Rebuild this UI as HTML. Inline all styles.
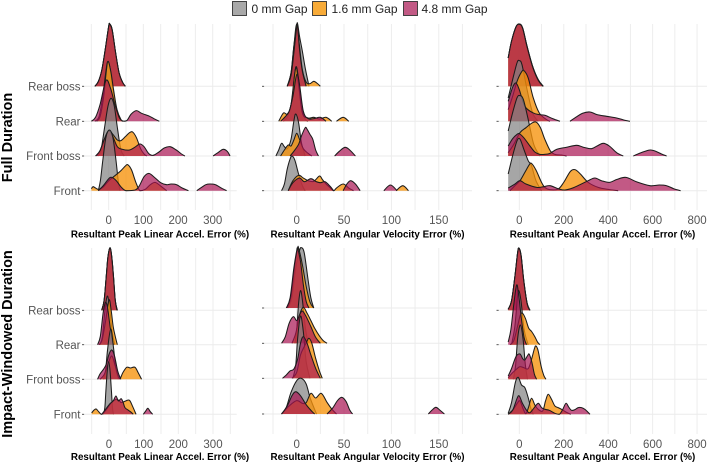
<!DOCTYPE html>
<html>
<head>
<meta charset="utf-8">
<title>Ridgeline chart of resultant peak errors</title>
<style>
html,body{margin:0;padding:0;background:#fff;}
body{width:708px;height:464px;overflow:hidden;font-family:"Liberation Sans",sans-serif;}
svg{display:block;filter:blur(0.35px);}
text{font-family:"Liberation Sans",sans-serif;}
</style>
</head>
<body>
<svg id="chart" width="708" height="464" viewBox="0 0 708 464" xmlns="http://www.w3.org/2000/svg">
  <g>
    <rect x="232.5" y="1.5" width="14" height="14" fill="#a9a9a9" stroke="#333" stroke-width="0.9"/>
    <text x="251.5" y="12.8" font-size="12" fill="#222">0 mm Gap</text>
    <rect x="312.5" y="1.5" width="14" height="14" fill="#f8ab38" stroke="#333" stroke-width="0.9"/>
    <text x="331.5" y="12.8" font-size="12" fill="#222">1.6 mm Gap</text>
    <rect x="403.5" y="1.5" width="14" height="14" fill="#c25a85" stroke="#333" stroke-width="0.9"/>
    <text x="421.5" y="12.8" font-size="12" fill="#222">4.8 mm Gap</text>
  </g>
  <text transform="translate(12,137.5) rotate(-90)" text-anchor="middle" font-size="14.5" font-weight="bold" fill="#000">Full Duration</text>
  <text transform="translate(12,344) rotate(-90)" text-anchor="middle" font-size="14.5" font-weight="bold" fill="#000">Impact-Windowed Duration</text>
</svg>
<script>
// Categories and labels
const categories = ['Rear boss', 'Rear', 'Front boss', 'Front'];
const gapLabels = ['0 mm Gap', '1.6 mm Gap', '4.8 mm Gap'];
const linearTicks = [0, 100, 200, 300];
const velocityTicks = [0, 50, 100, 150];
const angularTicks = [0, 200, 400, 600, 800];
const linearTitle = 'Resultant Peak Linear Accel. Error (%)';
const velocityTitle = 'Resultant Peak Angular Velocity Error (%)';
const angularTitle = 'Resultant Peak Angular Accel. Error (%)';

// Density curves: [error %, density] per panel / row / gap
// Full duration, linear acceleration
const fullLinRearBoss0 = [[-40,0],[-30,14],[-20,48],[-10,110],[0,180],[3,187],[10,170],[20,100],[30,40],[40,12],[48,0]];
const fullLinRearBoss1 = [[-40,0],[-30,14],[-20,48],[-10,110],[0,180],[3,187],[10,170],[20,100],[30,40],[40,12],[48,0]];
const fullLinRearBoss2 = [[-40,0],[-30,14],[-20,48],[-10,110],[0,180],[3,186],[10,168],[20,100],[30,40],[40,12],[48,0]];
const fullLinRear0 = [[-40,0],[-28,14],[-18,70],[-8,150],[-3,179],[3,165],[12,100],[22,40],[32,8],[40,0]];
const fullLinRear1 = [[-35,0],[-25,14],[-15,70],[-7,150],[-2,179],[6,150],[14,95],[24,35],[36,4],[42,0]];
const fullLinRear2 = [[-50,0],[-38,12],[-25,50],[-8,122],[5,100],[18,50],[30,12],[40,1],[52,2],[65,22],[80,32],[95,24],[118,15],[132,7],[146,0]];
const fullLinFrontBoss0 = [[-30,0],[-22,18],[-12,85],[-2,150],[7,173],[16,150],[25,85],[35,20],[45,0]];
const fullLinFrontBoss1 = [[-35,0],[-25,16],[-12,52],[0,76],[12,65],[25,48],[35,46],[48,58],[60,70],[69,72],[80,55],[92,22],[102,6],[110,0]];
const fullLinFrontBoss2 = [[-38,0],[-25,16],[-12,52],[0,76],[12,58],[25,28],[40,20],[60,18],[75,26],[90,36],[102,28],[115,8],[128,2],[145,12],[160,24],[177,28],[195,18],[210,6],[220,0],[301,0],[315,10],[330,20],[342,14],[350,0]];
const fullLinFront0 = [[-30,0],[-24,30],[-17,91],[-8,160],[2,182],[12,160],[21,91],[28,25],[33,0]];
const fullLinFront1 = [[-50,6],[-45,12],[-38,8],[-28,4],[-15,12],[0,30],[18,45],[35,60],[48,74],[55,78],[66,62],[78,26],[90,0],[105,4],[120,18],[134,25],[150,14],[167,0]];
const fullLinFront2 = [[-30,0],[-15,16],[0,36],[9,40],[22,30],[35,12],[50,0],[76,2],[88,14],[102,42],[116,52],[132,40],[150,24],[167,18],[180,20],[196,18],[212,8],[230,0],[254,0],[268,10],[280,18],[292,20],[308,18],[325,8],[340,0]];
// Full duration, angular velocity
const fullVelRearBoss0 = [[-10,0],[-6,40],[-3,120],[0,182],[1,187],[3,150],[6,105],[9,55],[13,0]];
const fullVelRearBoss1 = [[-10,0],[-6,40],[-3,120],[0,187],[3,120],[6,50],[10,12],[14,8],[18,15],[22,8],[25,0]];
const fullVelRearBoss2 = [[-10,0],[-6,32],[-3,100],[0,178],[1,180],[3,110],[6,45],[10,0]];
const fullVelRear0 = [[-14,0],[-9,18],[-5,65],[-1,162],[2,125],[5,45],[9,6],[12,0]];
const fullVelRear1 = [[-19,0],[-14,25],[-10,22],[-6,50],[-1,160],[2,110],[6,25],[12,10],[18,12],[24,7],[31,12],[37,0],[42,0],[49,12],[55,0]];
const fullVelRear2 = [[-17,0],[-12,14],[-8,30],[-4,75],[0,140],[3,110],[7,30],[12,8],[18,8],[25,12],[31,0]];
const fullVelFrontBoss0 = [[-22,0],[-19,18],[-16,38],[-13,28],[-10,22],[-6,50],[-3,105],[-1,126],[2,100],[5,40],[9,0]];
const fullVelFrontBoss1 = [[-17,0],[-13,18],[-9,33],[-6,30],[-3,48],[0,68],[3,50],[7,22],[12,8],[16,0]];
const fullVelFrontBoss2 = [[-7,0],[-3,14],[2,35],[5,60],[9,85],[11,80],[14,65],[17,50],[20,18],[23,0],[40,0],[45,14],[51,26],[56,18],[62,0]];
const fullVelFront0 = [[-16,0],[-13,20],[-10,65],[-7,95],[-5,104],[-2,92],[2,50],[6,15],[9,0]];
const fullVelFront1 = [[-9,0],[-4,30],[2,46],[7,38],[12,30],[18,28],[24,44],[27,34],[31,20],[35,10],[39,0],[42,8],[49,20],[55,8],[60,0],[92,0],[105,0],[112,15],[118,0]];
const fullVelFront2 = [[-9,0],[-4,24],[3,38],[8,27],[15,36],[20,28],[25,24],[30,27],[35,14],[39,0],[49,0],[53,20],[57,30],[62,20],[67,0],[92,0],[99,17],[106,0]];
// Full duration, angular acceleration
const fullAccRearBoss0 = [[-50,85],[-35,135],[-15,178],[0,187],[15,175],[35,120],[60,60],[85,20],[108,0]];
const fullAccRearBoss1 = [[-50,85],[-35,135],[-15,178],[0,187],[15,175],[35,120],[60,60],[85,20],[108,0]];
const fullAccRearBoss2 = [[-50,85],[-35,135],[-15,178],[0,186],[15,174],[35,118],[60,58],[85,18],[106,0]];
const fullAccRear0 = [[-50,70],[-30,125],[-10,176],[0,182],[12,170],[35,95],[60,25],[85,0]];
const fullAccRear1 = [[-50,35],[-30,75],[-10,120],[10,148],[21,152],[40,130],[63,70],[90,25],[123,5],[138,0]];
const fullAccRear2 = [[-50,60],[-30,102],[-15,115],[0,95],[25,45],[63,25],[90,20],[115,18],[150,8],[183,0],[228,0],[250,10],[285,24],[318,28],[350,20],[393,15],[438,10],[470,4],[498,0]];
const fullAccFrontBoss0 = [[-50,75],[-30,130],[-10,175],[3,181],[18,170],[40,110],[65,35],[93,0]];
const fullAccFrontBoss1 = [[-50,10],[-25,35],[3,70],[30,85],[55,98],[75,102],[95,85],[115,50],[140,15],[160,5],[190,3],[213,0]];
const fullAccFrontBoss2 = [[-50,30],[-30,52],[-10,65],[0,67],[20,55],[48,30],[70,12],[93,5],[115,5],[138,8],[168,20],[210,26],[258,32],[290,26],[325,22],[350,30],[378,38],[405,30],[438,10],[468,0],[513,0],[540,8],[570,15],[591,18],[615,14],[640,6],[663,0]];
const fullAccFront0 = [[-50,50],[-30,105],[-10,150],[3,155],[20,125],[40,90],[55,75],[75,30],[100,0]];
const fullAccFront1 = [[-42,0],[-20,15],[3,30],[25,55],[45,78],[55,82],[75,62],[100,25],[115,10],[138,3],[175,5],[200,25],[230,58],[252,63],[275,50],[310,25],[355,10],[400,4],[445,0]];
const fullAccFront2 = [[-50,8],[-20,20],[3,30],[30,20],[78,10],[110,12],[138,15],[175,6],[205,2],[240,8],[273,18],[310,30],[340,38],[370,30],[405,25],[440,34],[480,40],[530,26],[588,15],[630,17],[663,15],[695,6],[726,0]];
// Impact-windowed, linear acceleration
const impLinRearBoss0 = [[-21,0],[-14,30],[-8,100],[-3,160],[3,188],[8,160],[13,100],[18,30],[24,0]];
const impLinRearBoss1 = [[-21,0],[-14,30],[-8,100],[-3,160],[3,188],[8,160],[13,100],[18,30],[24,0]];
const impLinRearBoss2 = [[-21,0],[-14,30],[-8,100],[-3,160],[3,187],[8,158],[13,98],[18,30],[23,0]];
const impLinRear0 = [[-26,0],[-19,25],[-12,100],[-5,146],[2,110],[9,40],[17,0]];
const impLinRear1 = [[-29,0],[-20,14],[-10,70],[0,134],[6,105],[12,55],[18,25],[24,0]];
const impLinRear2 = [[-33,0],[-25,25],[-17,95],[-10,127],[-4,110],[3,55],[9,15],[13,0]];
const impLinFrontBoss0 = [[-16,0],[-10,25],[-4,90],[5,151],[13,95],[20,30],[27,0]];
const impLinFrontBoss1 = [[-26,0],[-14,14],[-3,45],[8,70],[18,40],[30,2],[40,20],[51,36],[62,34],[75,36],[85,18],[94,0]];
const impLinFrontBoss2 = [[-33,0],[-26,16],[-16,30],[-8,45],[0,75],[8,88],[16,70],[25,25],[34,0]];
const impLinFront0 = [[-16,0],[-12,20],[-9,70],[-5,130],[-1,158],[3,130],[7,70],[10,20],[13,0]];
const impLinFront1 = [[-50,4],[-44,12],[-37,16],[-30,8],[-21,0],[-8,14],[3,30],[12,40],[22,45],[30,40],[36,35],[48,40],[59,42],[68,24],[78,0]];
const impLinFront2 = [[-21,0],[-12,12],[3,32],[12,40],[20,55],[27,40],[35,47],[41,35],[46,20],[56,12],[64,6],[70,0],[99,0],[106,10],[112,18],[119,8],[126,0]];
// Impact-windowed, angular velocity
const impVelRearBoss0 = [[-9,0],[-5,32],[-1,120],[3,172],[5,181],[8,165],[12,85],[15,30],[18,0]];
const impVelRearBoss1 = [[-10,0],[-6,35],[-2,130],[1,178],[2,180],[6,130],[10,65],[14,18],[18,0]];
const impVelRearBoss2 = [[-11,0],[-7,30],[-3,120],[0,172],[1,178],[4,140],[7,70],[10,20],[13,0]];
const impVelRear0 = [[-2,0],[0,40],[2,120],[4,158],[6,130],[9,50],[12,0]];
const impVelRear1 = [[-5,0],[-1,30],[3,85],[7,108],[11,90],[15,68],[19,45],[24,22],[28,8],[32,0]];
const impVelRear2 = [[-16,0],[-12,20],[-8,60],[-3.5,80],[0,68],[3,85],[6,97],[10,80],[15,50],[20,18],[25,0]];
const impVelFrontBoss0 = [[-4,0],[-1,40],[1,120],[4,187],[7,140],[10,50],[14,0]];
const impVelFrontBoss1 = [[-5,0],[0,18],[4,70],[8,95],[11,112],[13,120],[16,105],[20,60],[24,22],[27,0]];
const impVelFrontBoss2 = [[-15,0],[-11,10],[-7,22],[-3,28],[1,58],[4,105],[7,125],[11,105],[15,70],[20,30],[25,0]];
const impVelFront0 = [[-16,0],[-11,20],[-6,65],[0,100],[5,107],[10,90],[14,50],[18,20],[21,0]];
const impVelFront1 = [[-16,0],[-8,24],[0,40],[6,32],[10,34],[15,62],[20,48],[26,62],[32,35],[37,15],[42,0]];
const impVelFront2 = [[-16,0],[-10,24],[-5,55],[-1,67],[4,55],[10,28],[16,8],[19,0],[32,0],[38,18],[43,40],[47.5,50],[52,38],[56,12],[59,0],[139,0],[143,12],[147,20],[151,12],[156,0]];
// Impact-windowed, angular acceleration
const impAccRearBoss0 = [[-50,3],[-35,28],[-20,100],[-8,170],[-2,187],[8,165],[20,90],[35,22],[48,0]];
const impAccRearBoss1 = [[-50,3],[-35,28],[-20,100],[-8,170],[-2,187],[8,165],[20,90],[35,22],[48,0]];
const impAccRearBoss2 = [[-50,3],[-35,28],[-20,100],[-8,170],[-2,186],[8,163],[20,88],[35,20],[47,0]];
const impAccRear0 = [[-35,0],[-20,55],[-8,145],[-2,162],[8,130],[22,45],[40,0]];
const impAccRear1 = [[-42,0],[-25,12],[-8,55],[5,90],[15,94],[28,78],[42,50],[55,40],[70,24],[82,8],[93,0]];
const impAccRear2 = [[-50,8],[-38,45],[-25,120],[-12,179],[-3,150],[10,75],[22,20],[33,0]];
const impAccFrontBoss0 = [[-27,0],[-17,40],[-7,125],[5,163],[17,120],[27,45],[37,0]];
const impAccFrontBoss1 = [[-50,5],[-30,20],[-10,32],[3,38],[20,35],[40,32],[55,60],[68,92],[75,100],[85,85],[98,40],[110,12],[120,0]];
const impAccFrontBoss2 = [[-50,10],[-35,32],[-15,68],[3,76],[15,62],[25,58],[38,72],[45,75],[57,50],[68,15],[78,0]];
const impAccFront0 = [[-50,3],[-35,35],[-18,95],[-5,111],[10,88],[25,80],[40,50],[52,18],[63,0]];
const impAccFront1 = [[-50,0],[-28,14],[-8,34],[3,40],[18,15],[30,2],[42,22],[55,48],[70,28],[85,15],[105,10],[118,40],[130,60],[145,45],[160,25],[175,20],[190,15],[215,5],[232,0]];
const impAccFront2 = [[-50,0],[-30,12],[-10,48],[0,55],[15,32],[35,10],[48,5],[65,18],[85,33],[100,20],[115,15],[135,12],[160,3],[180,0],[195,14],[210,33],[222,22],[235,12],[250,14],[265,20],[280,20],[295,15],[308,7],[318,0]];

const gapFills = ['rgba(132,132,132,0.72)', 'rgba(246,146,10,0.78)', 'rgba(168,19,81,0.7)'];
const SVG_NS = 'http://www.w3.org/2000/svg';
const chart = document.getElementById('chart');

const panels = [
  {key:'full-linear', x0:108.7, k:0.3467, left:85, right:236.7, top:24, bottom:210, base:[86.3,121.3,156,190.7], tickX:82, labels:true,
   major:linearTicks, minorStep:50, gridFrom:-50, gridTo:350, tickY:224, title:linearTitle, titleX:160, titleY:237.5,
   series:[[fullLinRearBoss0,fullLinRearBoss1,fullLinRearBoss2],[fullLinRear0,fullLinRear1,fullLinRear2],[fullLinFrontBoss0,fullLinFrontBoss1,fullLinFrontBoss2],[fullLinFront0,fullLinFront1,fullLinFront2]]},
  {key:'full-velocity', x0:296.7, k:0.947, left:265, right:472, top:24, bottom:210, base:[86.3,121.3,156,190.7], tickX:262, labels:false,
   major:velocityTicks, minorStep:25, gridFrom:-25, gridTo:175, tickY:224, title:velocityTitle, titleX:367.5, titleY:237.5,
   series:[[fullVelRearBoss0,fullVelRearBoss1,fullVelRearBoss2],[fullVelRear0,fullVelRear1,fullVelRear2],[fullVelFrontBoss0,fullVelFrontBoss1,fullVelFrontBoss2],[fullVelFront0,fullVelFront1,fullVelFront2]]},
  {key:'full-angular', x0:519.3, k:0.2222, left:499, right:707, top:24, bottom:210, base:[86.3,121.3,156,190.7], tickX:496.5, labels:false,
   major:angularTicks, minorStep:100, gridFrom:0, gridTo:800, tickY:224, title:angularTitle, titleX:602.5, titleY:237.5,
   series:[[fullAccRearBoss0,fullAccRearBoss1,fullAccRearBoss2],[fullAccRear0,fullAccRear1,fullAccRear2],[fullAccFrontBoss0,fullAccFrontBoss1,fullAccFrontBoss2],[fullAccFront0,fullAccFront1,fullAccFront2]]},
  {key:'impact-linear', x0:109, k:0.3467, left:85, right:236.7, top:248, bottom:434, base:[310.3,344.7,379.3,414.3], tickX:82, labels:true,
   major:linearTicks, minorStep:50, gridFrom:-50, gridTo:350, tickY:448, title:linearTitle, titleX:160, titleY:460,
   series:[[impLinRearBoss0,impLinRearBoss1,impLinRearBoss2],[impLinRear0,impLinRear1,impLinRear2],[impLinFrontBoss0,impLinFrontBoss1,impLinFrontBoss2],[impLinFront0,impLinFront1,impLinFront2]]},
  {key:'impact-velocity', x0:296.7, k:0.947, left:265, right:472, top:248, bottom:434, base:[308,343.3,378.3,414], tickX:262, labels:false,
   major:velocityTicks, minorStep:25, gridFrom:-25, gridTo:175, tickY:448, title:velocityTitle, titleX:367.5, titleY:460,
   series:[[impVelRearBoss0,impVelRearBoss1,impVelRearBoss2],[impVelRear0,impVelRear1,impVelRear2],[impVelFrontBoss0,impVelFrontBoss1,impVelFrontBoss2],[impVelFront0,impVelFront1,impVelFront2]]},
  {key:'impact-angular', x0:519.3, k:0.2222, left:499, right:707, top:248, bottom:434, base:[310.3,344.7,379.3,414.3], tickX:496.5, labels:false,
   major:angularTicks, minorStep:100, gridFrom:0, gridTo:800, tickY:448, title:angularTitle, titleX:602.5, titleY:460,
   series:[[impAccRearBoss0,impAccRearBoss1,impAccRearBoss2],[impAccRear0,impAccRear1,impAccRear2],[impAccFrontBoss0,impAccFrontBoss1,impAccFrontBoss2],[impAccFront0,impAccFront1,impAccFront2]]}
];

function make(tag, attrs, parent) {
  const el = document.createElementNS(SVG_NS, tag);
  for (const k in attrs) el.setAttribute(k, attrs[k]);
  parent.appendChild(el);
  return el;
}
function slug(s) { return s.toLowerCase().replace(/[^a-z0-9]+/g, '-').replace(/-$/, ''); }

// Split density points into drawable runs, leaving out stretches at zero density
function splitRuns(points) {
  const runs = [];
  let cur = [];
  for (let i = 0; i < points.length; i++) {
    cur.push(points[i]);
    if (i < points.length - 1 && points[i][1] === 0 && points[i + 1][1] === 0) {
      if (cur.length > 1) runs.push(cur);
      cur = [];
    }
  }
  if (cur.length > 1) runs.push(cur);
  return runs;
}
function smoothPath(pixels, base) {
  let d = 'M' + pixels[0][0].toFixed(2) + ' ' + pixels[0][1].toFixed(2);
  for (let i = 0; i < pixels.length - 1; i++) {
    const p0 = pixels[Math.max(i - 1, 0)], p1 = pixels[i], p2 = pixels[i + 1], p3 = pixels[Math.min(i + 2, pixels.length - 1)];
    const c1x = p1[0] + (p2[0] - p0[0]) / 6, c2x = p2[0] - (p3[0] - p1[0]) / 6;
    const c1y = Math.min(base, p1[1] + (p2[1] - p0[1]) / 6), c2y = Math.min(base, p2[1] - (p3[1] - p1[1]) / 6);
    d += 'C' + c1x.toFixed(2) + ' ' + c1y.toFixed(2) + ' ' + c2x.toFixed(2) + ' ' + c2y.toFixed(2) + ' ' + p2[0].toFixed(2) + ' ' + p2[1].toFixed(2);
  }
  return d;
}

panels.forEach(function (panel) {
  const xScale = function (v) { return panel.x0 + v * panel.k; };
  const yScale = function (rowIndex, density) { return panel.base[rowIndex] - density / 3; };

  const group = make('g', {}, chart);
  
  

  // Grid
  for (let v = panel.gridFrom; v <= panel.gridTo; v += panel.minorStep) {
    const gx = make('line', {x1:xScale(v), x2:xScale(v), y1:panel.top, y2:panel.bottom, stroke:'#ededed', 'stroke-width':1}, group);
    
    
  }
  categories.forEach(function (cat, r) {
    const gy = make('line', {x1:panel.left, x2:panel.right, y1:panel.base[r], y2:panel.base[r], stroke:'#ebebeb', 'stroke-width':1}, group);
    
    
    const tm = make('line', {x1:panel.tickX, x2:panel.tickX + 2.2, y1:panel.base[r], y2:panel.base[r], stroke:'#444', 'stroke-width':0.9}, group);
    
    
    if (panel.labels) {
      const lab = make('text', {x:80.5, y:panel.base[r] + 4.1, 'text-anchor':'end', 'font-size':11.5, fill:'#555'}, group);
      lab.textContent = cat;
      
      
    }
  });
  panel.major.forEach(function (t) {
    const tl = make('text', {x:xScale(t), y:panel.tickY, 'text-anchor':'middle', 'font-size':11.5, fill:'#555'}, group);
    tl.textContent = String(t);
    
    
  });
  const title = make('text', {x:panel.titleX, y:panel.titleY, 'text-anchor':'middle', 'font-size':9.8, 'font-weight':'bold', fill:'#000'}, group);
  title.textContent = panel.title;
  
  

  // Ridges: top row first, lower rows overlap upper rows
  categories.forEach(function (cat, r) {
    panel.series[r].forEach(function (points, g) {
      splitRuns(points).forEach(function (run) {
        const pixels = run.map(function (p) { return [xScale(p[0]), yScale(r, p[1])]; });
        const base = panel.base[r];
        const top = smoothPath(pixels, base);
        const area = make('path', {d: top + 'L' + pixels[pixels.length - 1][0].toFixed(2) + ' ' + base + 'L' + pixels[0][0].toFixed(2) + ' ' + base + 'Z', fill:gapFills[g], stroke:'none'}, group);
        
        
        const line = make('path', {d: top, fill:'none', stroke:'#1c1c1c', 'stroke-width':1.05, 'stroke-linejoin':'round'}, group);
        
        
      });
    });
  });
});
</script>
</body>
</html>
